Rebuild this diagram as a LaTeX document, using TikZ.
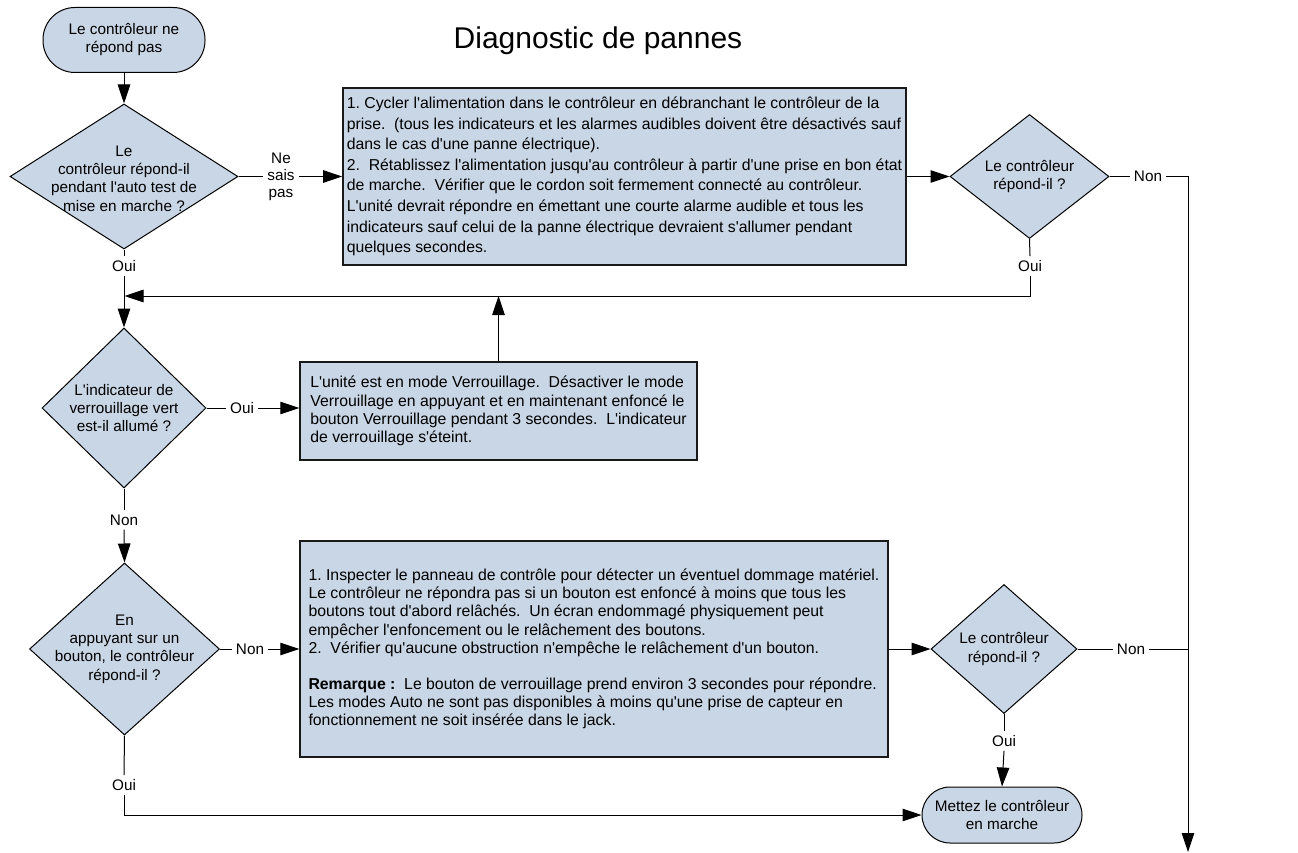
\documentclass[tikz,border=0pt]{standalone}
\usepackage{fontspec}
\setmainfont{Liberation Sans}[Ligatures=TeXOff]
\usetikzlibrary{arrows.meta,shapes.geometric}
\definecolor{boxfill}{RGB}{201,214,229}
\frenchspacing
\begin{document}
\begin{tikzpicture}[x=1pt,y=-1pt,
  flow/.style={line width=1pt, draw=black},
  arr/.style={flow, -{Triangle[length=19pt,width=12.5pt]}},
  decision/.style={diamond, draw=black, line width=1pt, fill=boxfill, inner sep=0pt},
  dtext/.style={align=center, font=\fontsize{15.3}{18.3}\selectfont, inner sep=0pt},
  procbox/.style={rectangle, draw=black!90, line width=1.4pt, fill=boxfill, align=left, inner sep=4pt, font=\fontsize{15.8}{18.2}\selectfont},
  term/.style={rectangle, draw=black, line width=1pt, fill=boxfill, align=center, font=\fontsize{15.3}{18}\selectfont},
  lbl/.style={inner sep=4pt, align=center, font=\fontsize{15.3}{17}\selectfont},
  titletext/.style={font=\fontsize{30}{34}\selectfont}
]
\useasboundingbox (0,0) rectangle (1298,853);

\node[titletext] (title) at (598,41) {Diagnostic de pannes};

\node[term, minimum width=162pt, minimum height=65pt, rounded corners=32pt] (start) at (124,40) {Le contrôleur ne\\répond pas};

\node[decision, minimum width=228pt, minimum height=145pt,
  label={[dtext, yshift=-2pt]center:{Le\\contrôleur répond-il\\pendant l'auto test de\\mise en marche ?}}] (d1) at (124,176.5) {};

\node[lbl] (nsp) at (281,176.5) {Ne\\sais\\pas};

\node[procbox, minimum width=563pt, minimum height=177pt, font=\fontsize{15.8}{20.6}\selectfont] (box1) at (624.5,176.5) {1. Cycler l'alimentation dans le contrôleur en débranchant le contrôleur de la\\
prise.~ (tous les indicateurs et les alarmes audibles doivent être désactivés sauf\\
dans le cas d'une panne électrique).\\
2.~ Rétablissez l'alimentation jusqu'au contrôleur à partir d'une prise en bon état\\
de marche.~ Vérifier que le cordon soit fermement connecté au contrôleur.\\
L'unité devrait répondre en émettant une courte alarme audible et tous les\\
indicateurs sauf celui de la panne électrique devraient s'allumer pendant\\
quelques secondes.};

\node[decision, minimum width=159pt, minimum height=124pt,
  label={[dtext]center:{Le contrôleur\\répond-il ?}}] (d2) at (1029.5,176.5) {};

\node[lbl] (non2) at (1148,176.5) {Non};
\node[lbl] (oui1) at (124,266) {Oui};
\node[lbl] (oui2) at (1030,266) {Oui};

\coordinate (rb) at (1188,852);
\coordinate (m1) at (124.5,296);

\node[decision, minimum width=164pt, minimum height=160pt,
  label={[dtext]center:{L'indicateur de\\verrouillage vert\\est-il allumé ?}}] (d3) at (124,408) {};

\node[lbl] (oui3) at (242,408) {Oui};

\node[procbox, minimum width=397pt, minimum height=98pt] (box3) at (498.5,411) {L'unité est en mode Verrouillage.~ Désactiver le mode\\
Verrouillage en appuyant et en maintenant enfoncé le\\
bouton Verrouillage pendant 3 secondes.~ L'indicateur\\
de verrouillage s'éteint.};

\node[lbl] (non3) at (124,520) {Non};

\node[decision, minimum width=190pt, minimum height=172pt,
  label={[dtext]center:{En\\appuyant sur un\\bouton, le contrôleur\\répond-il ?}}] (d4) at (124.5,649) {};

\node[lbl] (non4) at (250,649) {Non};

\node[procbox, minimum width=588pt, minimum height=216pt] (box4) at (594,649) {1. Inspecter le panneau de contrôle pour détecter un éventuel dommage matériel.\\
Le contrôleur ne répondra pas si un bouton est enfoncé à moins que tous les\\
boutons tout d'abord relâchés.~ Un écran endommagé physiquement peut\\
empêcher l'enfoncement ou le relâchement des boutons.\\
2.~ Vérifier qu'aucune obstruction n'empêche le relâchement d'un bouton.\\[18pt]
\textbf{Remarque :}~ Le bouton de verrouillage prend environ 3 secondes pour répondre.\\
Les modes Auto ne sont pas disponibles à moins qu'une prise de capteur en\\
fonctionnement ne soit insérée dans le jack.};

\node[decision, minimum width=146pt, minimum height=129pt,
  label={[dtext]center:{Le contrôleur\\répond-il ?}}] (d5) at (1004,649) {};

\node[lbl] (non5) at (1131,649) {Non};
\node[lbl] (oui5) at (1004,741) {Oui};
\node[lbl] (oui4) at (124,785) {Oui};

\node[term, minimum width=160pt, minimum height=56pt, rounded corners=28pt] (endt) at (1002,815) {Mettez le contrôleur\\en marche};

% connectors
\draw[arr] (start) -- (d1);
\draw[flow] (d1.south) -- (oui1.north);
\draw[arr] (oui1.south) -- (d3.north);
\draw[flow] (d1.east) -- (nsp.west);
\draw[arr] (nsp.east) -- (box1.west);
\draw[arr] (box1.east) -- (d2.west);
\draw[flow] (d2.east) -- (non2.west);
\draw[arr] (non2.east) -| (rb);
\draw[flow] (d2.south) -- (oui2.north);
\draw[arr] (oui2.south) |- (m1);
\draw[arr] (box3.north) -- (box3.north |- m1);
\draw[flow] (d3.east) -- (oui3.west);
\draw[arr] (oui3.east) -- (box3.west |- oui3.east);
\draw[flow] (d3.south) -- (non3.north);
\draw[arr] (non3.south) -- (d4.north);
\draw[flow] (d4.east) -- (non4.west);
\draw[arr] (non4.east) -- (box4.west);
\draw[arr] (box4.east) -- (d5.west);
\draw[flow] (d5.east) -- (non5.west);
\draw[flow] (non5.east) -- (non5.east -| rb);
\draw[flow] (d5.south) -- (oui5.north);
\draw[arr] (oui5.south) -- (endt.north);
\draw[flow] (d4.south) -- (oui4.north);
\draw[arr] (oui4.south) |- (endt.west);
\end{tikzpicture}
\end{document}
